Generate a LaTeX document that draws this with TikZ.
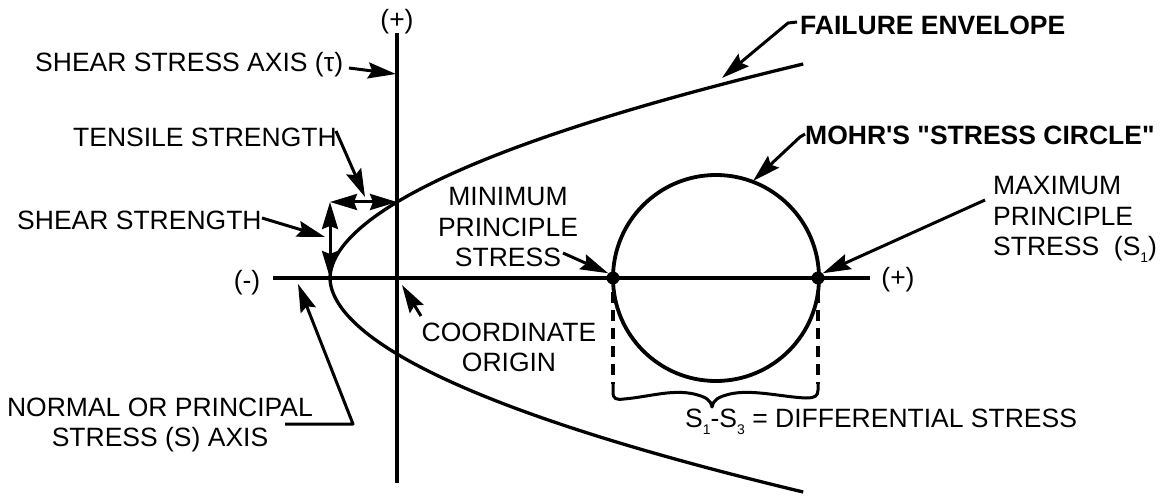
\documentclass[tikz,border=0pt]{standalone}
\usepackage{fontspec}
\setmainfont{Liberation Sans}[Ligatures=TeXOff]
\usetikzlibrary{arrows.meta}
\newcommand\lowsub[1]{\raisebox{-7pt}{\fontsize{14}{14}\selectfont #1}}
\begin{document}
\begin{tikzpicture}[x=1pt,y=-1pt,
  lbl/.style={inner sep=0pt, font=\fontsize{26.5}{30.5}\selectfont},
  blbl/.style={inner sep=0pt, font=\fontsize{26.5}{30.5}\selectfont\bfseries},
  axisline/.style={line width=3.5pt},
  env/.style={line width=3.3pt},
  leader/.style={line width=3pt, line join=round, -{Stealth[length=28pt,width=16pt,inset=4pt]}},
  dbl/.style={line width=3pt, {Stealth[length=27pt,width=16pt,inset=3pt]}-{Stealth[length=27pt,width=16pt,inset=3pt]}},
  dot/.style={circle, fill, inner sep=0pt, minimum size=13pt},
  dashline/.style={line width=3.2pt, dash pattern=on 11pt off 7pt},
  bracepath/.style={line width=3pt, line join=round, line cap=round}
]
\useasboundingbox (0,0) rectangle (1162,497);

% axes
\coordinate (hl) at (273,278); \coordinate (hr) at (870,278);
\coordinate (vt) at (397,33);  \coordinate (vb) at (397,483);
\draw[axisline] (hl) -- (hr);
\draw[axisline] (vt) -- (vb);

% failure envelope
\draw[env] plot[domain=-214:214, samples=200, variable=\t, smooth]
  ({330+(abs(\t)/8.18)^1.887}, {278+\t});

% Mohr circle
\node[draw, circle, line width=3.8pt, inner sep=0pt, minimum size=206pt] (mohr) at (716,278) {};
\node[dot] (smin) at (613,278) {};
\node[dot] (smax) at (818,278) {};

% dashed lines and brace
\coordinate (d1) at (613,292); \coordinate (b1) at (613,384);
\coordinate (d2) at (818,292); \coordinate (b2) at (818,384);
\coordinate (btip) at (712,407);
\draw[dashline] (d1) -- (b1);
\draw[dashline] (d2) -- (b2);
\draw[bracepath] (b1) -- (613,392) .. controls (613,399) and (616,400) .. (624,399)
  .. controls (648,397) and (672,389) .. (694,394)
  .. controls (706,397) and (711,400) .. (btip)
  .. controls (713,400) and (718,397) .. (730,394)
  .. controls (752,389) and (782,397) .. (806,398)
  .. controls (815,398) and (818,396) .. (818,390) -- (b2);

% strength arrows
\coordinate (vtx) at (330,278);
\coordinate (cr) at (330,202);
\coordinate (tp) at (397,202);
\draw[dbl] (vtx) -- (cr);
\draw[dbl] (cr) -- (tp);

% axis sign labels
\node[lbl] (vplus) at (397,22) {(+)};
\node[lbl] (hplus) at (898,280) {(+)};
\node[lbl] (hminus) at (247,283) {(-)};

% labels and leaders
\node[lbl, anchor=base west] (sa) at (35,71.5) {SHEAR STRESS AXIS (τ)};
\coordinate (saS) at (349,68); \coordinate (saT) at (396,74);
\draw[leader] (saS) -- (saT);

\node[lbl, anchor=base west] (ts) at (73,146.5) {TENSILE STRENGTH};
\coordinate (tsS) at (336,131); \coordinate (tsT) at (365,197);
\draw[leader] (tsS) -- (tsT);

\node[lbl, anchor=base west] (ss) at (17,229.5) {SHEAR STRENGTH};
\coordinate (ssS) at (262,218); \coordinate (ssT) at (325,237);
\draw[leader] (ssS) -- (ssT);

\node[lbl, anchor=north, align=center] (np) at (160,397.5) {NORMAL OR PRINCIPAL\\STRESS (S) AXIS};
\coordinate (npS) at (285,424); \coordinate (npM) at (353,424); \coordinate (npT) at (298,284);
\draw[leader] (npS) -- (npM) -- (npT);

\node[lbl, anchor=north, align=center] (co) at (509,322.5) {COORDINATE\\ORIGIN};
\coordinate (coS) at (421,316); \coordinate (coT) at (402,285);
\draw[leader] (coS) -- (coT);

\node[lbl, anchor=north, align=center] (mn) at (508,187.5) {MINIMUM\\PRINCIPLE\\STRESS};
\coordinate (mnS) at (563,253);
\draw[leader] (mnS) -- (smin.north west);

\node[blbl, anchor=base west] (fe) at (800,34.5) {FAILURE ENVELOPE};
\coordinate (feS) at (797,22); \coordinate (feM) at (788,23); \coordinate (feT) at (722,78);
\draw[leader] (feS) -- (feM) -- (feT);

\node[blbl, anchor=base west] (mc) at (805,144.5) {MOHR'S "STRESS CIRCLE"};
\coordinate (mcS) at (805,134); \coordinate (mcM) at (800,137); \coordinate (mcT) at (753,181);
\draw[leader] (mcS) -- (mcM) -- (mcT);

\node[lbl, anchor=north west, align=left] (mx) at (993,176.5) {MAXIMUM\\PRINCIPLE\\STRESS\ \ (S\lowsub{1})};
\coordinate (mxS) at (985,200);
\draw[leader] (mxS) -- (smax.north east);

\node[lbl, anchor=base west] (ds) at (685,427.5) {S\lowsub{1}-S\lowsub{3} = DIFFERENTIAL STRESS};

\end{tikzpicture}
\end{document}
